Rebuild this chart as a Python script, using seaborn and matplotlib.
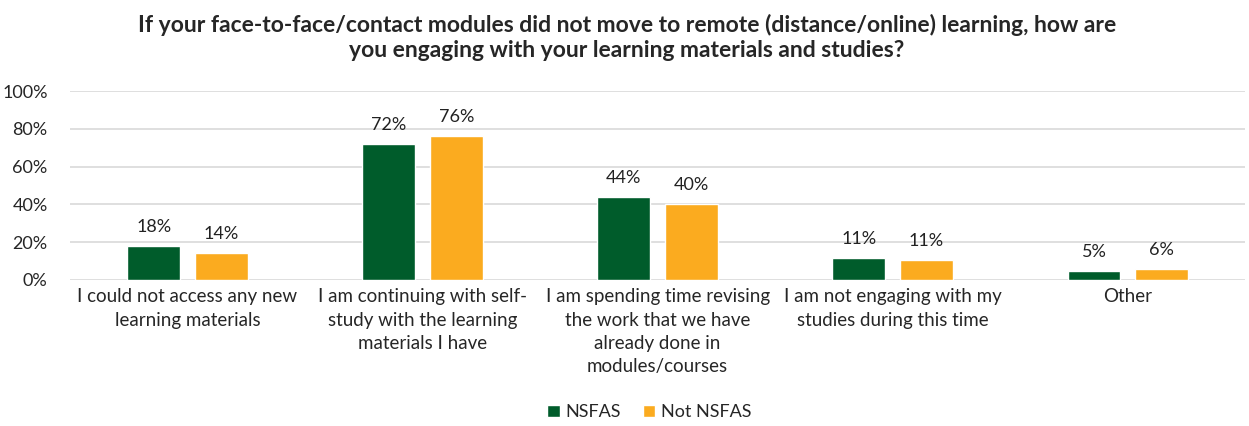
import pandas as pd
import matplotlib.pyplot as plt
import seaborn as sns

sns.set_theme(style="white")
plt.rcParams['font.family'] = ['Lato', 'DejaVu Sans']

categories = [
    "I could not access any new\nlearning materials",
    "I am continuing with self-\nstudy with the learning\nmaterials I have",
    "I am spending time revising\nthe work that we have\nalready done in\nmodules/courses",
    "I am not engaging with my\nstudies during this time",
    "Other",
]
nsfas = [18, 72, 44, 11.4, 4.6]
not_nsfas = [14, 76, 40, 10.6, 5.6]
groups = ["NSFAS", "Not NSFAS"]
colors = ["#005c2b", "#fbab1f"]

df = pd.DataFrame({
    "cat": categories * 2,
    "val": nsfas + not_nsfas,
    "grp": [groups[0]] * 5 + [groups[1]] * 5,
})

fig = plt.figure(figsize=(12.49, 4.26), dpi=100)
ax = fig.add_axes([0.056, 0.343, 0.941, 0.443])

sns.barplot(data=df, x="cat", y="val", hue="grp", palette=colors,
            width=0.574, gap=0.215, ax=ax, saturation=1, legend=True)

for c in ax.containers:
    ax.bar_label(c, labels=[f"{v:.0f}%" for v in c.datavalues],
                 padding=8, fontsize=13, color="#222222")

ax.set_ylim(0, 100)
ax.set_yticks(range(0, 101, 20))
ax.set_yticklabels([f"{t}%" for t in range(0, 101, 20)], fontsize=13)
ax.tick_params(axis="x", labelsize=13.5, length=0, pad=6)
ax.tick_params(axis="y", length=0, pad=16)
for lbl in ax.get_xticklabels():
    lbl.set_linespacing(1.45)
ax.set_xlabel("")
ax.set_ylabel("")
ax.yaxis.grid(True, color="#d9d9d9", linewidth=1.2)
ax.set_axisbelow(True)
for s in ax.spines.values():
    s.set_visible(False)

ax.legend(loc="lower center", bbox_to_anchor=(0.493, -0.83), ncol=2,
          frameon=False, fontsize=13, handlelength=0.7, handleheight=0.7,
          handletextpad=0.3, columnspacing=1.2)

fig.suptitle("If your face-to-face/contact modules did not move to remote (distance/online) learning, how are\n"
             "you engaging with your learning materials and studies?",
             fontsize=16.5, fontweight="bold", y=0.968, x=0.502, linespacing=1.25)

fig.savefig("out.png", dpi=100)
